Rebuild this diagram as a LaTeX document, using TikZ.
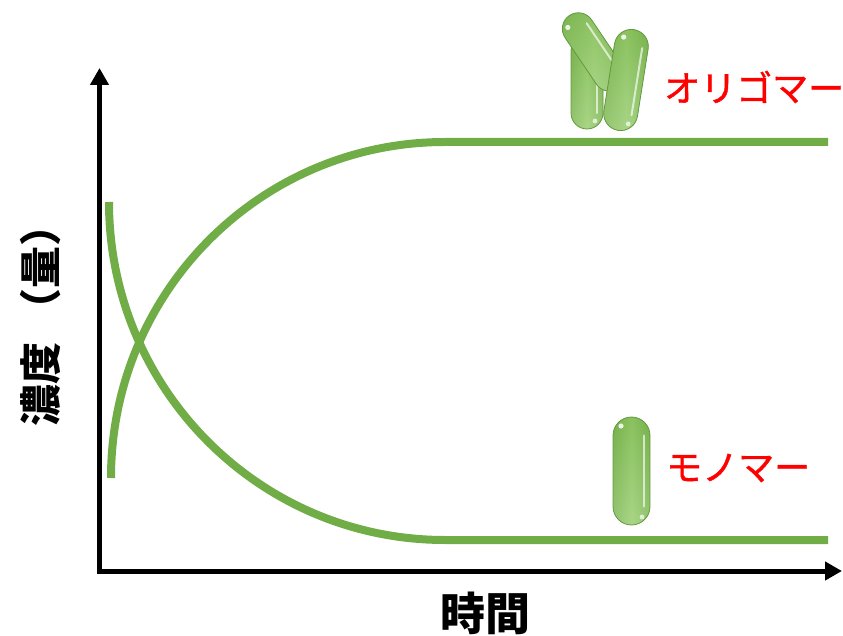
\documentclass[tikz,border=0pt]{standalone}
\usepackage{fontspec}
\newfontfamily\jp{Noto Sans CJK JP}
\newfontfamily\jpm[FakeBold=1.2]{Noto Sans CJK JP}
\usetikzlibrary{arrows.meta}
\definecolor{curvegreen}{HTML}{70AD47}
\definecolor{capedge}{HTML}{6FAA45}
\definecolor{capmid}{HTML}{9CD072}
\definecolor{capdark}{HTML}{7DB651}
\definecolor{caplight}{HTML}{B4DB97}
\definecolor{labred}{HTML}{FF0000}
\tikzset{
  axis/.style={line width=5pt, black, -{Triangle[length=17pt,width=18pt]}},
  curve/.style={line width=8pt, curvegreen},
  capbody/.style={left color=capedge, right color=capedge, middle color=capmid},
  capfade/.style={top color=capdark, bottom color=caplight, opacity=0.55},
  caprim/.style={draw=capedge!90!black, line width=0.8pt},
  caphl/.style={line width=2pt, white, opacity=0.65, line cap=round},
  axlabel/.style={font=\jp\bfseries\fontsize{42}{42}\selectfont, inner sep=0pt},
  redlabel/.style={labred, font=\jpm\fontsize{36}{36}\selectfont, anchor=west, inner sep=0pt}
}
\newcommand\drawcapsule[5]{%
  \begin{scope}[shift={(#1,#2)}, rotate=#3]
    \path[capbody, rounded corners=#5/2] (-#5/2,-#4/2) rectangle (#5/2,#4/2);
    \path[capfade, rounded corners=#5/2] (-#5/2,-#4/2) rectangle (#5/2,#4/2);
    \path[caprim, rounded corners=#5/2] (-#5/2,-#4/2) rectangle (#5/2,#4/2);
    \draw[caphl] (#5/2-6,-#4/2+#5/2) -- (#5/2-6,#4/2-#5/2);
    \fill[white, opacity=0.85] (-#5/2+8,-#4/2+9) circle (2.6pt);
    \fill[white, opacity=0.7] (#5/2-8,#4/2-8) circle (2.4pt);
  \end{scope}}
\begin{document}
\begin{tikzpicture}[x=1pt,y=-1pt]
\useasboundingbox (0,0) rectangle (843,636);
% axes
\coordinate (O) at (99.5,571);
\coordinate (Ob) at (99.5,573.5);
\coordinate (Ol) at (97,571);
\coordinate (Ytip) at (99.5,68);
\coordinate (Xtip) at (842,571);
\draw[axis] (Ob) -- (Ytip);
\draw[axis] (Ol) -- (Xtip);
% curves
\coordinate (a0) at (111,478);
\coordinate (a1) at (445,142);
\coordinate (a2) at (828,142);
\draw[curve] (a0) .. controls (111,292) and (260.5,142) .. (a1) -- (a2);
\coordinate (b0) at (109,202);
\coordinate (b1) at (445,540);
\coordinate (b2) at (828,540);
\draw[curve] (b0) .. controls (109,388.7) and (259.4,540) .. (b1) -- (b2);
% capsules
\drawcapsule{587}{82}{0}{94}{32}
\drawcapsule{594}{52}{34}{88}{32}
\drawcapsule{626}{80}{-9}{102}{34}
\drawcapsule{631.5}{471}{0}{108}{37}
% labels
\node[axlabel, rotate=90, anchor=west] (ylab) at (41,427) {濃度\kern12pt（量）};
\node[axlabel, font=\jp\bfseries\fontsize{45}{45}\selectfont] (xlab) at (485,613) {時間};
\node[redlabel] (olig) at (664,87) {オリゴマー};
\node[redlabel] (mono) at (666,468) {モノマー};
\end{tikzpicture}
\end{document}
